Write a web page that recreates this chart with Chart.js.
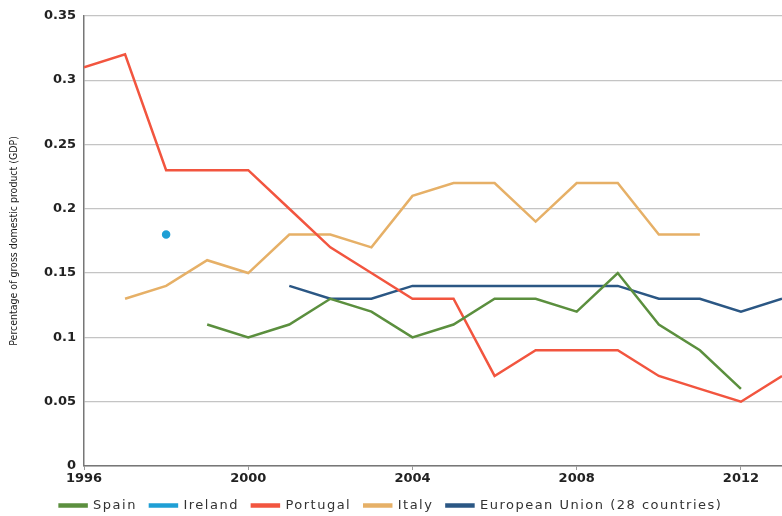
<!DOCTYPE html>
<html>
<head>
<meta charset="utf-8">
<script src="https://cdn.jsdelivr.net/npm/chart.js@4"></script>
<style>
    html, body { margin: 0; padding: 0; background: #fff; }
    #wrap { width: 782px; height: 516px; position: relative; }
</style>
</head>
<body>
<div id="wrap"><canvas id="gdp-chart"></canvas></div>
<script>
const years = [1996, 1997, 1998, 1999, 2000, 2001, 2002, 2003, 2004, 2005, 2006, 2007, 2008, 2009, 2010, 2011, 2012, 2013];
const spain    = [null, null, null, 0.11, 0.10, 0.11, 0.13, 0.12, 0.10, 0.11, 0.13, 0.13, 0.12, 0.15, 0.11, 0.09, 0.06, null];
const ireland  = [null, null, 0.18, null, null, null, null, null, null, null, null, null, null, null, null, null, null, null];
const portugal = [0.31, 0.32, 0.23, 0.23, 0.23, 0.20, 0.17, 0.15, 0.13, 0.13, 0.07, 0.09, 0.09, 0.09, 0.07, 0.06, 0.05, 0.07];
const italy    = [null, 0.13, 0.14, 0.16, 0.15, 0.18, 0.18, 0.17, 0.21, 0.22, 0.22, 0.19, 0.22, 0.22, 0.18, 0.18, null, null];
const eu28     = [null, null, null, null, null, 0.14, 0.13, 0.13, 0.14, 0.14, 0.14, 0.14, 0.14, 0.14, 0.13, 0.13, 0.12, 0.13];
const xTicks = [1996, 2000, 2004, 2008, 2012];

const toPoints = arr => years.map((y, i) => ({ x: y, y: arr[i] }));

const series = [
    { label: 'Spain', data: spain, color: '#5b8f3e' },
    { label: 'Ireland', data: ireland, color: '#1f9fd5', dot: true },
    { label: 'Portugal', data: portugal, color: '#f2553f' },
    { label: 'Italy', data: italy, color: '#e6b067' },
    { label: 'European Union (28 countries)', data: eu28, color: '#2b5784' }
];

// spaced-out legend text, and a legend pushed down to the bottom edge
const legendTweak = {
    id: 'legendTweak',
    afterInit(chart) {
        const lg = chart.legend;
        if (!lg) return;
        const fit = lg.fit, draw = lg.draw;
        lg.fit = function () {
            const ctx = this.ctx;
            ctx.save();
            ctx.letterSpacing = '1.5px';
            fit.call(this);
            ctx.restore();
            this.height = 30;
        };
        lg.draw = function () {
            const ctx = this.ctx;
            ctx.save();
            ctx.letterSpacing = '1.5px';
            draw.call(this);
            ctx.restore();
        };
    }
};

new Chart(document.getElementById('gdp-chart'), {
    type: 'line',
    data: {
        datasets: series.map(s => ({
            label: s.label,
            data: toPoints(s.data),
            borderColor: s.color,
            backgroundColor: s.color,
            borderWidth: 2.5,
            showLine: !s.dot,
            pointRadius: s.dot ? 3 : 0,
            pointHoverRadius: 0,
            spanGaps: false,
            tension: 0
        }))
    },
    plugins: [legendTweak],
    options: {
        responsive: true,
        maintainAspectRatio: false,
        animation: false,
        layout: { autoPadding: false, padding: { top: 9, right: 0, left: 0, bottom: 0 } },
        scales: {
            x: {
                type: 'linear',
                min: 1996,
                max: 2013,
                afterBuildTicks: axis => { axis.ticks = xTicks.map(v => ({ value: v })); },
                afterFit: axis => { axis.height = 20; axis.paddingRight = 0; axis.paddingLeft = 0; },
                grid: { drawOnChartArea: false, tickLength: 4, color: '#999' },
                border: { color: '#777', width: 1.5 },
                ticks: {
                    maxRotation: 0,
                    padding: 1,
                    color: '#222',
                    font: { family: 'DejaVu Sans', weight: 'bold', size: 13 },
                    callback: v => String(v)
                }
            },
            y: {
                min: 0,
                max: 0.35,
                afterFit: axis => { axis.width = 84; },
                grid: { color: '#c4c4c4', lineWidth: 1.2, drawTicks: false },
                border: { color: '#777', width: 1.5 },
                ticks: {
                    stepSize: 0.05,
                    padding: 8,
                    color: '#222',
                    font: { family: 'DejaVu Sans', weight: 'bold', size: 13 },
                    callback: v => String(Math.round(v * 100) / 100)
                },
                title: {
                    display: true,
                    text: 'Percentage of gross domestic product (GDP)',
                    color: '#1a1a1a',
                    padding: { top: 8, bottom: 0 },
                    font: { family: 'DejaVu Sans Condensed', size: 10.5 }
                }
            }
        },
        plugins: {
            legend: {
                display: true,
                position: 'bottom',
                labels: {
                    boxWidth: 27,
                    boxHeight: 2,
                    padding: 13,
                    color: '#333',
                    font: { family: 'DejaVu Sans', size: 13 }
                }
            },
            tooltip: { enabled: false }
        }
    }
});
</script>
</body>
</html>
